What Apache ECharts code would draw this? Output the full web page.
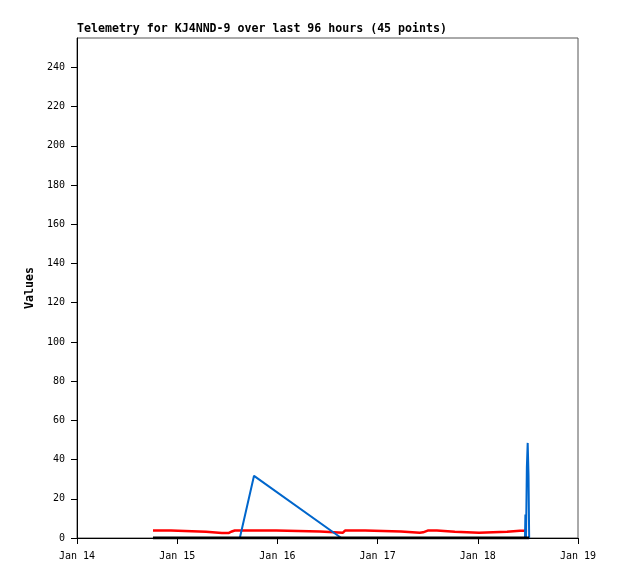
<!DOCTYPE html>
<html><head><meta charset="utf-8">
<script src="https://cdn.jsdelivr.net/npm/echarts@6/dist/echarts.min.js"></script>
<style>html,body{margin:0;padding:0;background:#fff}#c{width:618px;height:579px}</style>
</head><body><div id="c"></div>
<script>
// x values: hours since Jan 14 00:00
var dayLabels = ['Jan 14','Jan 15','Jan 16','Jan 17','Jan 18','Jan 19'];
var yTicks = [0,20,40,60,80,100,120,140,160,180,200,220,240];

var redHours = [18.2, 22.5, 22.8, 30.9, 31.1, 34.7, 35.0, 35.4, 36.4, 36.9, 37.8, 47.7, 47.9, 58.2, 58.4, 63.7, 64.2, 69.0, 69.2, 77.6, 77.8, 82.1, 82.4, 82.9, 83.3, 84.0, 84.3, 84.6, 86.2, 86.5, 90.5, 90.8, 96.3, 96.5, 103.0, 103.2, 106.1, 106.4, 106.7, 107.8];
var redValues = [3.8, 3.8, 3.2, 3.2, 2.6, 2.6, 3.2, 2.6, 2.6, 3.2, 3.8, 3.8, 3.3, 3.3, 2.7, 2.7, 3.8, 3.8, 3.3, 3.3, 2.7, 2.7, 3.5, 2.9, 3.8, 3.8, 3.0, 3.8, 3.8, 3.2, 3.2, 2.7, 2.7, 3.2, 3.2, 3.7, 3.7, 3.0, 3.7, 3.7];

var blueHours = [18.2, 39.0, 42.4, 63.3, 107.3, 107.4, 107.55, 107.75, 107.95, 108.15, 108.3];
var blueValues = [0, 0, 31.7, 0, 0, 12, 0, 36, 48.5, 32, 0];

var blackHours = [18.2, 108.3];
var blackValues = [0, 0];

function pairs(hs, vs){ return hs.map(function(h,i){ return [h, vs[i]]; }); }

var font = 'DejaVu Sans Mono';
var chart = echarts.init(document.getElementById('c'), null, {renderer:'canvas'});
chart.setOption({
  animation: false,
  backgroundColor: '#fff',
  title: {
    text: 'Telemetry for KJ4NND-9 over last 96 hours (45 points)',
    left: 77, top: 23, padding: 0,
    textStyle: {fontFamily: font, fontWeight: 'bold', fontSize: 11.6, color: '#000'}
  },
  grid: {left: 77, right: 40, top: 38, bottom: 41, show: true, borderColor: '#555', borderWidth: 1},
  xAxis: {
    type: 'value',
    min: 0, max: 120, interval: 24,
    splitLine: {show: false},
    axisLine: {lineStyle: {color: '#000', width: 1}},
    axisTick: {show: true, length: 6, lineStyle: {color: '#000'}},
    axisLabel: {
      fontFamily: font, fontSize: 10, color: '#000', margin: 13,
      showMinLabel: true, showMaxLabel: true,
      formatter: function(v){ return dayLabels[Math.round(v/24)] || ''; }
    }
  },
  yAxis: {
    type: 'value', min: 0, max: 255,
    name: 'Values', nameLocation: 'middle', nameGap: 38, nameRotate: 90,
    nameTextStyle: {fontFamily: font, fontWeight: 'bold', fontSize: 11.6, color: '#000'},
    splitLine: {show: false},
    axisLine: {show: true, lineStyle: {color: '#000', width: 1}},
    axisTick: {show: true, length: 6, lineStyle: {color: '#000'}, customValues: yTicks},
    axisLabel: {customValues: yTicks, fontFamily: font, fontSize: 10, color: '#000', margin: 12}
  },
  series: [
    {type: 'line', name: 'red', data: pairs(redHours, redValues), showSymbol: false, lineStyle: {color: '#ff0000', width: 2.5}, itemStyle:{color:'#ff0000'}},
    {type: 'line', name: 'blue', data: pairs(blueHours, blueValues), showSymbol: false, lineStyle: {color: '#0066cc', width: 2}, itemStyle:{color:'#0066cc'}},
    {type: 'line', name: 'black', data: pairs(blackHours, blackValues), showSymbol: false, lineStyle: {color: '#000000', width: 3}, itemStyle:{color:'#000'}}
  ]
});
</script></body></html>
